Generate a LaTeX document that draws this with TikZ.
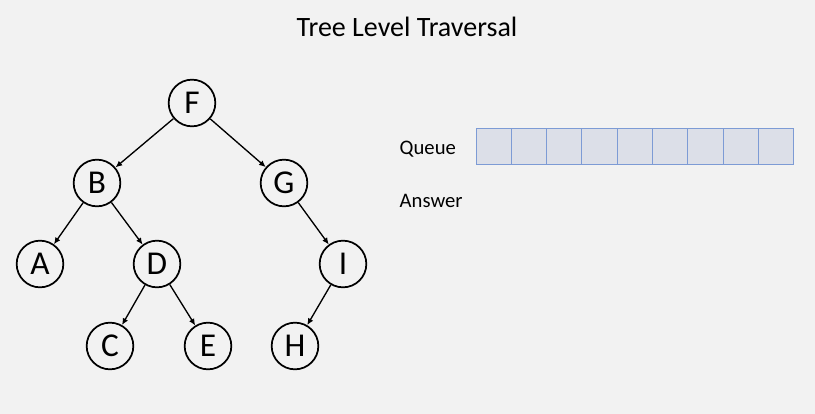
\documentclass[tikz,border=0pt]{standalone}
\usepackage{fontspec}
\setmainfont{Carlito}
\usetikzlibrary{arrows.meta,positioning}
\definecolor{bggray}{HTML}{F2F2F2}
\definecolor{cellfill}{HTML}{DCDFE8}
\definecolor{celldraw}{HTML}{7D9BD5}

\begin{document}
\begin{tikzpicture}[
x=0.75pt,y=-0.75pt,
tnode/.style={
  draw,
  circle,
  line width=1.3pt,
  minimum size=35pt,
  inner sep=0pt,
  font=\fontsize{25}{25}\selectfont
},
cell/.style={
  draw=celldraw,
  fill=cellfill,
  line width=0.8pt,
  minimum width=26.5pt,
  minimum height=27.5pt,
  inner sep=0pt
},
label/.style={font=\fontsize{15.5}{15.5}\selectfont,anchor=west},
arrow/.style={-{Latex[length=5pt,width=4.5pt]},line width=1pt}
]
\fill[bggray] (0,0) rectangle (815,414);
\useasboundingbox (0,0) rectangle (815,414);

\node[font=\fontsize{21}{21}\selectfont] (title) at (407,27) {Tree Level Traversal};

\node[tnode] (F) at (192,103) {F};
\node[tnode] (B) at (97,183) {B};
\node[tnode] (G) at (284,183) {G};
\node[tnode] (A) at (40,264) {A};
\node[tnode] (D) at (157,264) {D};
\node[tnode] (I) at (343,264) {I};
\node[tnode] (C) at (110,346) {C};
\node[tnode] (E) at (208,346) {E};
\node[tnode] (H) at (295,346) {H};

\draw[arrow] (F) -- (B);
\draw[arrow] (F) -- (G);
\draw[arrow] (B) -- (A);
\draw[arrow] (B) -- (D);
\draw[arrow] (G) -- (I);
\draw[arrow] (D) -- (C);
\draw[arrow] (D) -- (E);
\draw[arrow] (I) -- (H);

\node[label] (queue) at (395,149) {Queue};
\node[label] (answer) at (395,201) {Answer};
\foreach \i in {0,...,8}
  \node[cell] (q\i) at (493.7+35.3*\i,146.5) {};
\end{tikzpicture}
\end{document}
